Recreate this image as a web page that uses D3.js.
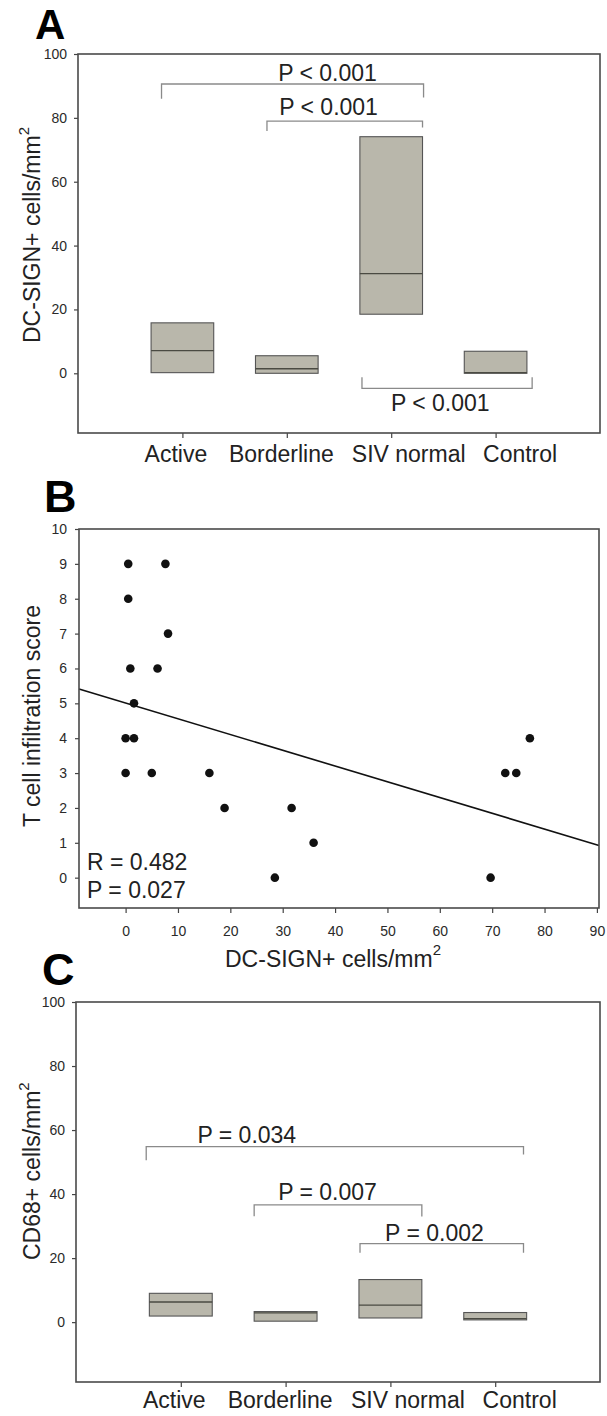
<!DOCTYPE html>
<html>
<head>
<meta charset="utf-8">
<script src="https://cdn.jsdelivr.net/npm/d3@7"></script>
<style>
  body { margin: 0; background: #fff; }
</style>
</head>
<body>
<script>
// values
const categories = ["Active", "Borderline", "SIV normal", "Control"];

// panel A: DC-SIGN+ cells/mm2 (box = 25th..75th percentile, line = median)
const dcsignQ1 = [0.2, 0, 18.5, 0];
const dcsignMedian = [7.1, 1.4, 31.2, 0.2];
const dcsignQ3 = [15.8, 5.5, 74.1, 6.9];

// panel C: CD68+ cells/mm2
const cd68Q1 = [1.9, 0.3, 1.3, 0.7];
const cd68Median = [6.3, 2.9, 5.3, 1.1];
const cd68Q3 = [9.0, 3.3, 13.3, 3.0];

const boxTicks = [0, 20, 40, 60, 80, 100];

// panel B: scatter of DC-SIGN+ density vs T cell score
const scatterX = [0.5, 0.5, 8.1, 7.6, 0.9, 6.1, 1.6, 0, 1.6, 0, 5.0, 16.0, 18.9, 31.7, 35.9, 28.5, 69.7, 72.5, 74.6, 77.2];
const scatterY = [9, 8, 7, 9, 6, 6, 5, 4, 4, 3, 3, 3, 2, 2, 1, 0, 0, 3, 3, 4];
const fitIntercept = 5.01;
const fitSlope = -0.0452;
const scatterXTicks = [0, 10, 20, 30, 40, 50, 60, 70, 80, 90];
const scatterYTicks = [0, 1, 2, 3, 4, 5, 6, 7, 8, 9, 10];

// significance brackets, in category-index / data units
const bracketsA = [
  { label: "P < 0.001", from: -0.2, to: 2.31, level: 90.6, fromEnd: 86, toEnd: 86.4, textAt: 1.39, textLevel: 91.5 },
  { label: "P < 0.001", from: 0.81, to: 2.30, level: 79.0, fromEnd: 75.9, toEnd: 77, textAt: 1.40, textLevel: 80.9 },
  { label: "P < 0.001", from: 1.72, to: 3.35, level: -4.7, fromEnd: -1.25, toEnd: -1.25, textAt: 2.47, textLevel: -11.9 }
];
const bracketsC = [
  { label: "P = 0.034", from: -0.33, to: 3.27, level: 54.8, fromEnd: 50.6, toEnd: 52.4, textAt: 0.63, textLevel: 55.8 },
  { label: "P = 0.007", from: 0.70, to: 2.30, level: 36.6, fromEnd: 33.1, toEnd: 33.0, textAt: 1.40, textLevel: 38.1 },
  { label: "P = 0.002", from: 1.71, to: 3.27, level: 24.5, fromEnd: 21.7, toEnd: 21.7, textAt: 2.42, textLevel: 25.3 }
];

const FONT = '"Liberation Sans", Arial, Helvetica, sans-serif';
const labelShift = [-7, -6, 17, 24]; // category labels sit a bit off their ticks

const svg = d3.select("body").append("svg")
  .attr("width", 607)
  .attr("height", 1416)
  .style("display", "block")
  .style("font-family", FONT);

function styleAxis(a, size) {
  a.select(".domain").remove();
  a.selectAll(".tick line").attr("stroke", "#444").attr("stroke-width", 1.2);
  a.selectAll(".tick text").attr("fill", "#2a2a2a").style("font-size", size + "px").style("font-family", FONT);
}

function panelLetter(letter, x, y, size) {
  svg.append("text")
    .attr("x", x).attr("y", y)
    .style("font-size", size + "px")
    .style("font-weight", "bold")
    .attr("fill", "#000")
    .text(letter);
}

function yTitle(text, x, y, sup) {
  const t = svg.append("text")
    .attr("transform", `translate(${x},${y}) rotate(-90)`)
    .style("font-size", "23px")
    .attr("fill", "#222");
  t.append("tspan").text(text);
  if (sup) t.append("tspan").attr("dy", -11).style("font-size", "15px").text(sup);
}

function boxPanel(f, q1, med, q3, brackets, labelPad) {
  const w = f.right - f.left;
  const h = f.bottom - f.top;
  const g = svg.append("g").attr("transform", `translate(${f.left},${f.top})`);

  const x = d3.scalePoint().domain(categories).range([0, w]).padding(1);
  const xi = d3.scaleLinear().domain([0, 3]).range([x(categories[0]), x(categories[3])]);
  const y = d3.scaleLinear().domain([-18.7, 100]).range([h, 0]);
  const bw = x.step() * 0.6;

  g.append("g")
    .call(d3.axisLeft(y).tickValues(boxTicks).tickSize(4).tickPadding(7))
    .call(a => styleAxis(a, 14));

  g.append("g")
    .attr("transform", `translate(0,${h})`)
    .call(d3.axisBottom(x).tickSize(5).tickPadding(labelPad))
    .call(a => styleAxis(a, 23))
    .call(a => a.selectAll(".tick text").attr("dx", (d, i) => labelShift[i]).attr("fill", "#222"));

  const boxes = categories.map((c, i) => ({ c, q1: q1[i], med: med[i], q3: q3[i] }));

  g.selectAll(".box")
    .data(boxes)
    .enter()
    .append("rect")
    .attr("class", "box")
    .attr("x", d => x(d.c) - bw / 2)
    .attr("y", d => y(d.q3))
    .attr("width", bw)
    .attr("height", d => y(d.q1) - y(d.q3))
    .attr("fill", "#b9b7ab")
    .attr("stroke", "#555")
    .attr("stroke-width", 1.1);

  g.selectAll(".median")
    .data(boxes)
    .enter()
    .append("line")
    .attr("class", "median")
    .attr("x1", d => x(d.c) - bw / 2)
    .attr("x2", d => x(d.c) + bw / 2)
    .attr("y1", d => y(d.med))
    .attr("y2", d => y(d.med))
    .attr("stroke", "#4a4a42")
    .attr("stroke-width", 1.4);

  g.selectAll(".bracket")
    .data(brackets)
    .enter()
    .append("path")
    .attr("class", "bracket")
    .attr("d", b => `M${xi(b.from)},${y(b.fromEnd)}V${y(b.level)}H${xi(b.to)}V${y(b.toEnd)}`)
    .attr("fill", "none")
    .attr("stroke", "#8a8a8a")
    .attr("stroke-width", 1.3);

  g.selectAll(".pval")
    .data(brackets)
    .enter()
    .append("text")
    .attr("class", "pval")
    .attr("x", b => xi(b.textAt))
    .attr("y", b => y(b.textLevel))
    .attr("text-anchor", "middle")
    .style("font-size", "23px")
    .attr("fill", "#222")
    .text(b => b.label);

  g.append("rect")
    .attr("width", w).attr("height", h)
    .attr("fill", "none")
    .attr("stroke", "#4a4a4a")
    .attr("stroke-width", 1.6);
}

// ---- panel A ----
panelLetter("A", 35, 39, 42);
boxPanel({ left: 78, top: 54, right: 600, bottom: 433 }, dcsignQ1, dcsignMedian, dcsignQ3, bracketsA, 8);
yTitle("DC-SIGN+ cells/mm", 40, 343, "2");

// ---- panel B ----
panelLetter("B", 44, 512, 45);
(function () {
  const f = { left: 79, top: 529, right: 599, bottom: 908 };
  const w = f.right - f.left;
  const h = f.bottom - f.top;
  const g = svg.append("g").attr("transform", `translate(${f.left},${f.top})`);

  const x = d3.scaleLinear().domain([-8.9, 90.4]).range([0, w]);
  const y = d3.scaleLinear().domain([-0.87, 10]).range([h, 0]);

  g.append("g")
    .call(d3.axisLeft(y).tickValues(scatterYTicks).tickSize(4).tickPadding(8))
    .call(a => styleAxis(a, 14));

  g.append("g")
    .attr("transform", `translate(0,${h})`)
    .call(d3.axisBottom(x).tickValues(scatterXTicks).tickSize(5).tickPadding(13))
    .call(a => styleAxis(a, 14));

  const xd = x.domain();
  g.append("line")
    .attr("x1", x(xd[0])).attr("y1", y(fitIntercept + fitSlope * xd[0]))
    .attr("x2", x(xd[1])).attr("y2", y(fitIntercept + fitSlope * xd[1]))
    .attr("stroke", "#111")
    .attr("stroke-width", 1.6);

  g.selectAll(".dot")
    .data(scatterX.map((v, i) => [v, scatterY[i]]))
    .enter()
    .append("circle")
    .attr("class", "dot")
    .attr("cx", d => x(d[0]))
    .attr("cy", d => y(d[1]))
    .attr("r", 4.3)
    .attr("fill", "#111");

  g.append("text").attr("x", 8).attr("y", h - 38)
    .style("font-size", "23px").attr("fill", "#222").text("R = 0.482");
  g.append("text").attr("x", 8).attr("y", h - 10)
    .style("font-size", "23px").attr("fill", "#222").text("P = 0.027");

  g.append("rect")
    .attr("width", w).attr("height", h)
    .attr("fill", "none")
    .attr("stroke", "#4a4a4a")
    .attr("stroke-width", 1.6);

  const xt = svg.append("text")
    .attr("x", 333).attr("y", 967)
    .attr("text-anchor", "middle")
    .style("font-size", "23px")
    .attr("fill", "#222");
  xt.append("tspan").text("DC-SIGN+ cells/mm");
  xt.append("tspan").attr("dy", -12).style("font-size", "15px").text("2");
})();
yTitle("T cell infiltration score", 40, 827);

// ---- panel C ----
panelLetter("C", 42, 985, 45);
boxPanel({ left: 76, top: 1002, right: 600, bottom: 1382 }, cd68Q1, cd68Median, cd68Q3, bracketsC, 5);
yTitle("CD68+ cells/mm", 40, 1260, "2");
</script>
</body>
</html>
